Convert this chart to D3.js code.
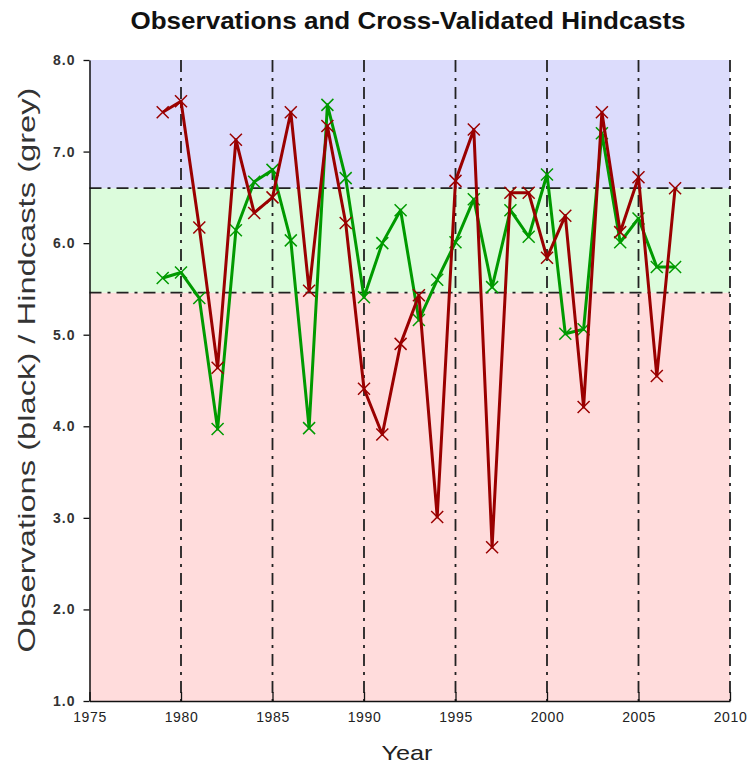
<!DOCTYPE html>
<html><head><meta charset="utf-8">
<script src="https://cdn.jsdelivr.net/npm/d3@7"></script>
<style>body{margin:0;background:#fff;} svg{display:block;}</style>
</head><body>
<svg id="chart" width="751" height="765"></svg>
<script>
const years = [1979,1980,1981,1982,1983,1984,1985,1986,1987,1988,1989,1990,1991,1992,1993,1994,1995,1996,1997,1998,1999,2000,2001,2002,2003,2004,2005,2006,2007];
const observations = [7.43,7.55,6.17,4.64,7.13,6.33,6.50,7.43,5.48,7.28,6.22,4.41,3.91,4.90,5.43,3.01,6.68,7.24,2.68,6.55,6.55,5.84,6.30,4.21,7.43,6.12,6.72,4.55,6.60];
const hindcasts = [5.62,5.68,5.40,3.97,6.14,6.67,6.80,6.03,3.98,7.51,6.71,5.41,6.00,6.36,5.16,5.60,6.01,6.48,5.52,6.36,6.07,6.75,5.01,5.06,7.20,6.01,6.27,5.74,5.74];
const xTicks = [1975,1980,1985,1990,1995,2000,2005,2010];
const yTicks = [1,2,3,4,5,6,7,8];
const vLines = [1980,1985,1990,1995,2000,2005,2010];
const thresholds = [5.46,6.6];
const bands = [{lo:1,hi:5.46,c:"#ffdcdc"},{lo:5.46,hi:6.6,c:"#dcfcdc"},{lo:6.6,hi:8,c:"#dcdcfc"}];

const svg = d3.select("#chart");
const L=89.5, R=730, T=60, B=701;
const x = d3.scaleLinear().domain([1975,2010]).range([L,R]);
const y = d3.scaleLinear().domain([1,8]).range([B,T]);

svg.selectAll("rect.band").data(bands).join("rect")
  .attr("x",x(1975)).attr("width",x(2010)-x(1975))
  .attr("y",d=>y(d.hi)).attr("height",d=>y(d.lo)-y(d.hi))
  .attr("fill",d=>d.c);

const dash = "12,6,3,6";
svg.selectAll("line.v").data(vLines).join("line")
  .attr("x1",d=>x(d)).attr("x2",d=>x(d)).attr("y1",y(8)).attr("y2",y(1))
  .attr("stroke","#222").attr("stroke-width",1.8).attr("stroke-dasharray",dash);
svg.selectAll("line.h").data(thresholds).join("line")
  .attr("x1",x(1975)).attr("x2",x(2010)).attr("y1",d=>y(d)).attr("y2",d=>y(d))
  .attr("stroke","#222").attr("stroke-width",1.8).attr("stroke-dasharray",dash);

function series(vals,color){
  const pts = years.map((yr,i)=>[yr,vals[i]]);
  svg.append("path").datum(pts)
    .attr("d",d3.line().x(d=>x(d[0])).y(d=>y(d[1])))
    .attr("fill","none").attr("stroke",color).attr("stroke-width",3).attr("stroke-linejoin","round");
  const s=6;
  svg.append("g").selectAll("path").data(pts).join("path")
    .attr("d",d=>{const cx=x(d[0]),cy=y(d[1]);return `M${cx-s},${cy-s}L${cx+s},${cy+s}M${cx-s},${cy+s}L${cx+s},${cy-s}`;})
    .attr("stroke",color).attr("stroke-width",1.5).attr("fill","none");
}
series(hindcasts,"#009a00");
series(observations,"#9a0000");

const xAxis = svg.append("g").attr("transform",`translate(0,${B})`)
  .call(d3.axisBottom(x).tickValues(xTicks).tickFormat(d3.format("d")).tickSizeInner(-9).tickSizeOuter(0).tickPadding(11));
xAxis.select(".domain").attr("stroke","#111").attr("stroke-width",1.5);
xAxis.selectAll(".tick line").attr("stroke","#111").attr("stroke-width",1.3);
xAxis.selectAll("text").attr("font-family","Liberation Sans, Arial, sans-serif").attr("font-size",14).attr("letter-spacing","0.6px").attr("fill","#222");

const yAxis = svg.append("g").attr("transform",`translate(${L},0)`)
  .call(d3.axisLeft(y).tickValues(yTicks).tickFormat(d3.format(".1f")).tickSizeInner(6).tickSizeOuter(0).tickPadding(8));
yAxis.select(".domain").attr("stroke","#111").attr("stroke-width",1.5);
yAxis.selectAll(".tick line").attr("stroke","#111").attr("stroke-width",1.3);
yAxis.selectAll("text").attr("font-family","Liberation Sans, Arial, sans-serif").attr("font-size",14).attr("font-weight","bold").attr("letter-spacing","1px").attr("fill","#333");

svg.append("text").attr("x",408).attr("y",29).attr("text-anchor","middle")
  .attr("font-family","Liberation Sans, Arial, sans-serif").attr("font-size",24).attr("font-weight","bold")
  .attr("textLength",555).attr("lengthAdjust","spacingAndGlyphs")
  .attr("fill","#111").text("Observations and Cross-Validated Hindcasts");
svg.append("text").attr("x",407).attr("y",760).attr("text-anchor","middle")
  .attr("font-family","Liberation Sans, Arial, sans-serif").attr("font-size",21)
  .attr("textLength",51).attr("lengthAdjust","spacingAndGlyphs")
  .attr("fill","#222").text("Year");
svg.append("text").attr("transform",`translate(35,370) rotate(-90)`).attr("text-anchor","middle")
  .attr("font-family","Liberation Sans, Arial, sans-serif").attr("font-size",24)
  .attr("textLength",565).attr("lengthAdjust","spacingAndGlyphs")
  .attr("fill","#333").text("Observations (black) / Hindcasts (grey)");
</script>
</body></html>
